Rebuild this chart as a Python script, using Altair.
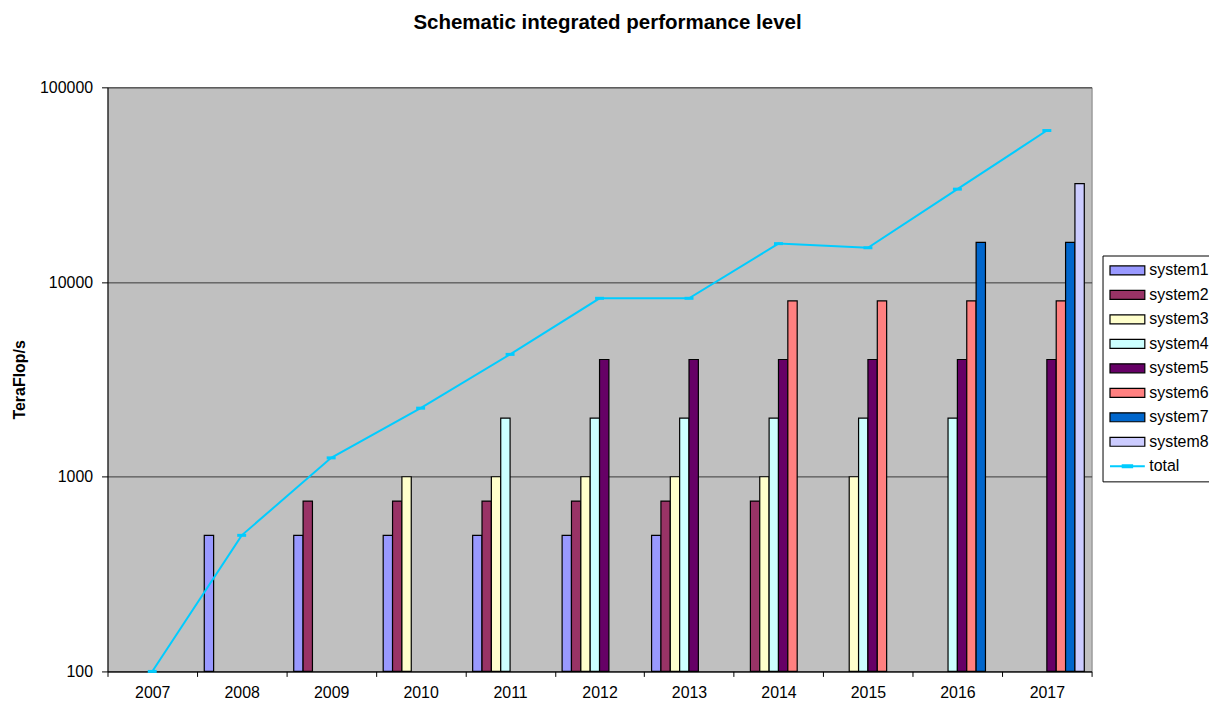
import altair as alt
import pandas as pd

years = ["2007", "2008", "2009", "2010", "2011", "2012", "2013", "2014", "2015", "2016", "2017"]
series_names = ["system1", "system2", "system3", "system4", "system5", "system6", "system7", "system8"]

system1 = [None, 500, 500, 500, 500, 500, 500, None, None, None, None]
system2 = [None, None, 750, 750, 750, 750, 750, 750, None, None, None]
system3 = [None, None, None, 1000, 1000, 1000, 1000, 1000, 1000, None, None]
system4 = [None, None, None, None, 2000, 2000, 2000, 2000, 2000, 2000, None]
system5 = [None, None, None, None, None, 4000, 4000, 4000, 4000, 4000, 4000]
system6 = [None, None, None, None, None, None, None, 8000, 8000, 8000, 8000]
system7 = [None, None, None, None, None, None, None, None, None, 16000, 16000]
system8 = [None, None, None, None, None, None, None, None, None, None, 32000]
total = [100, 500, 1250, 2250, 4250, 8250, 8250, 15750, 15000, 30000, 60000]

bar_colors = ["#9999FF", "#993366", "#FFFFCC", "#CCFFFF", "#660066", "#FF8080", "#0066CC", "#CCCCFF"]
total_color = "#00CCFF"
y_ticks = [100, 1000, 10000, 100000]

rows = []
for name, vals in zip(series_names, [system1, system2, system3, system4, system5, system6, system7, system8]):
    for yr, v in zip(years, vals):
        if v is not None:
            rows.append({"year": yr, "series": name, "value": v})
bars_df = pd.DataFrame(rows)
total_df = pd.DataFrame({"year": years, "value": total, "series": ["total"] * len(years)})

legend_domain = series_names + ["total"]
fill_range = bar_colors + [total_color]

FONT = "Liberation Sans"

x_enc = alt.X(
    "year:N",
    title=None,
    sort=years,
    scale=alt.Scale(domain=years, paddingInner=0, paddingOuter=0),
    axis=alt.Axis(
        labelAngle=0, tickBand="extent", tickSize=5, labelPadding=8,
        labelFont=FONT, labelFontSize=16, labelColor="black",
        domainColor="black", tickColor="black", grid=False,
    ),
)
y_enc = alt.Y(
    "value:Q",
    scale=alt.Scale(type="log", domain=[100, 100000], nice=False),
    title="TeraFlop/s",
    axis=alt.Axis(
        values=y_ticks, format="d", tickSize=6, labelPadding=9,
        labelFont=FONT, labelFontSize=16, labelColor="black",
        titleFont=FONT, titleFontSize=16, titleFontWeight="bold", titleColor="black",
        titlePadding=12, domainColor="black", tickColor="black",
        grid=True, gridColor="#383838", gridWidth=1,
    ),
)

rect_path = "M-1,-0.6H3.667V0.6H-1Z"
total_path = "M-1,0H3.667M0.7,-0.12H1.97V0.12H0.7Z"

legend = alt.Legend(
    title=None,
    orient="none",
    legendX=1000,
    legendY=169,
    strokeColor="black",
    fillColor="white",
    padding=7,
    symbolSize=225,
    symbolType=alt.ExprRef(expr="datum.value === 'total' ? '" + total_path + "' : '" + rect_path + "'"),
    symbolStrokeColor=alt.ExprRef(expr="datum.value === 'total' ? '" + total_color + "' : 'black'"),
    symbolStrokeWidth=alt.ExprRef(expr="datum.value === 'total' ? 2 : 1.2"),
    labelOffset=24,
    labelFont=FONT,
    labelFontSize=16,
    labelColor="black",
    rowPadding=8.6,
)

bars = alt.Chart(bars_df).mark_bar(stroke="black", strokeWidth=1.2).encode(
    x=x_enc,
    xOffset=alt.XOffset("series:N", scale=alt.Scale(domain=series_names, paddingInner=0, paddingOuter=0.78)),
    y=y_enc,
    y2=alt.datum(100),
    fill=alt.Fill("series:N", scale=alt.Scale(domain=legend_domain, range=fill_range), legend=legend),
)

line = alt.Chart(total_df).mark_line(color=total_color, strokeWidth=2).encode(
    x=alt.X("year:N", sort=years),
    y=alt.Y("value:Q"),
)

markers = alt.Chart(total_df).mark_tick(color=total_color, size=9, thickness=3, orient="horizontal", opacity=1).encode(
    x=alt.X("year:N", sort=years),
    y=alt.Y("value:Q"),
)

chart = alt.layer(bars, line, markers).properties(
    width=989,
    height=587,
    background="white",
    autosize=alt.AutoSizeParams(type="none"),
    padding={"left": 100, "top": 78, "right": 118, "bottom": 32},
    title=alt.TitleParams(
        "Schematic integrated performance level",
        font=FONT, fontSize=20.6, fontWeight="bold", color="black",
        anchor="middle", frame="group", offset=46, dx=8,
    ),
).configure_view(
    fill="#C0C0C0", stroke="#808080", strokeWidth=1
)

chart.save("out.html", embed_options={"renderer": "svg", "actions": False})
